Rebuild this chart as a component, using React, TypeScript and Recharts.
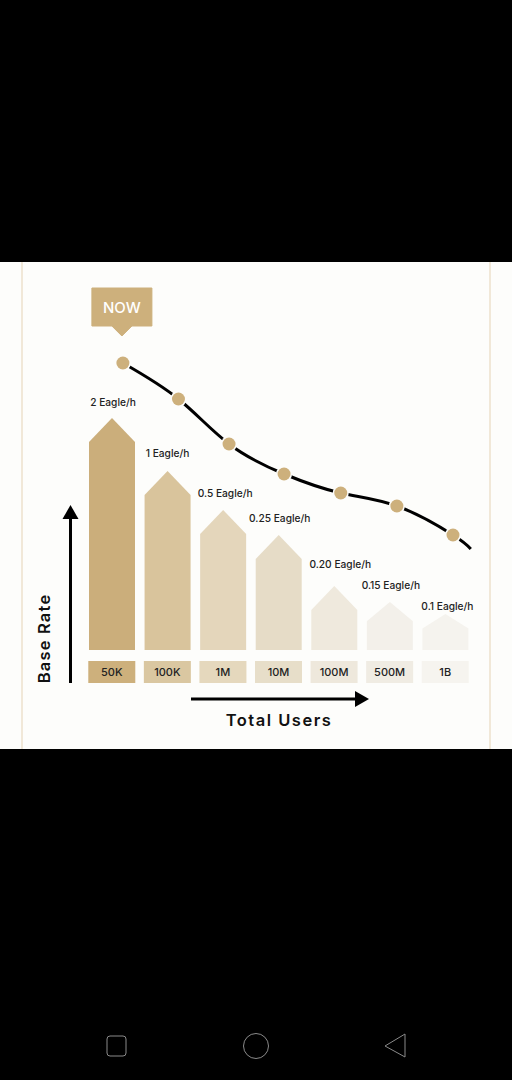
import React from 'react';
import { ComposedChart, Bar, Line, XAxis, YAxis, LabelList, Cell } from 'recharts';

const tiers = ['50K', '100K', '1M', '10M', '100M', '500M', '1B'];
const rateLabels = ['2 Eagle/h', '1 Eagle/h', '0.5 Eagle/h', '0.25 Eagle/h', '0.20 Eagle/h', '0.15 Eagle/h', '0.1 Eagle/h'];
const barLevels = [232, 179, 140, 115, 64, 48, 36];

// the curve sits slightly right of the bars, so it has its own position axis
const curvePositions = [0.7, 1.7, 2.61, 3.6, 4.62, 5.63, 6.64, 6.96];
const curveLevels = [287, 251, 206, 176, 157, 144, 115, 101];

const barData = tiers.map((tier, i) => ({ tier, level: barLevels[i], rate: rateLabels[i] }));
const curveData = curvePositions.map((pos, i) => ({ pos, level: curveLevels[i] }));

const BAR_COLORS = ['#cbae7b', '#d9c49c', '#e4d6bb', '#e6dcc7', '#efe9dd', '#f3f0ea', '#f5f3ee'];
const CHIP_COLORS = ['#cdb07c', '#dac7a1', '#e5d8bd', '#e7dec9', '#eee8dc', '#f0ece3', '#f6f4ef'];
const LABEL_NUDGE_X = [1, 0, 2, 1, 6, 1, 2];
const LABEL_NUDGE_Y = [0, -2, -1, -1, -6, -1, 8];

const GOLD = '#cdb07c';
const PANEL = '#fdfdfb';
const INK = '#222222';
const FONT = 'Inter, Roboto, sans-serif';

const House = ({ x, y, width, height, fill }: any) => {
  const roof = Math.min(24, height * 0.4);
  const d = `M${x},${y + height} L${x},${y + roof} L${x + width / 2},${y} L${x + width},${y + roof} L${x + width},${y + height} Z`;
  return <path d={d} fill={fill} />;
};

const TierTick = ({ x, y, index, payload }: any) => (
  <g>
    <rect x={x - 23.5} y={y + 5} width={47} height={22} fill={CHIP_COLORS[index]} />
    <text x={x} y={y + 20} textAnchor="middle" fontFamily={FONT} fontSize={11} fontWeight={500} fill={INK}>
      {payload.value}
    </text>
  </g>
);

const RateLabel = ({ x, y, width, value, index }: any) => (
  <text
    x={x + width / 2 + LABEL_NUDGE_X[index]}
    y={y - 12 + LABEL_NUDGE_Y[index]}
    textAnchor="middle"
    fontFamily={FONT}
    fontSize={10.2}
    fontWeight={500}
    fill={INK}
  >
    {value}
  </text>
);

const CurveDot = ({ cx, cy, index }: any) => {
  if (index === curveData.length - 1) return <g key={index} />;
  return (
    <g key={index}>
      <circle cx={cx} cy={cy} r={8} fill={PANEL} />
      <circle cx={cx} cy={cy} r={6.5} fill={GOLD} />
      {index === 0 && (
        <g>
          <path
            d={`M${cx - 31},${cy - 75} H${cx + 29} V${cy - 37} H${cx + 9} L${cx - 1},${cy - 27} L${cx - 11},${cy - 37} H${cx - 31} Z`}
            fill={GOLD}
            stroke={GOLD}
            strokeWidth={1}
            strokeLinejoin="round"
          />
          <text x={cx - 1} y={cy - 50} textAnchor="middle" fontFamily={FONT} fontSize={15} fontWeight={500} fill="#ffffff">
            NOW
          </text>
        </g>
      )}
    </g>
  );
};

export default function App() {
  return (
    <div style={{ position: 'absolute', left: 0, top: 0, width: 512, height: 1080, background: '#000', overflow: 'hidden' }}>
      <div style={{ position: 'absolute', left: 0, top: 262, width: 512, height: 487, background: PANEL }} />
      <div style={{ position: 'absolute', left: 21, top: 262, width: 2, height: 487, background: '#f1e8d8' }} />
      <div style={{ position: 'absolute', left: 489, top: 262, width: 2, height: 487, background: '#f1e8d8' }} />

      <div style={{ position: 'absolute', left: 0, top: 0 }}>
        <ComposedChart
          width={512}
          height={1080}
          data={barData}
          margin={{ top: 262, right: 39, bottom: 370, left: 84 }}
        >
          <XAxis dataKey="tier" height={60} axisLine={false} tickLine={false} tickMargin={0} interval={0} tick={<TierTick />} />
          <XAxis xAxisId="pos" type="number" dataKey="pos" domain={[0, 7]} hide allowDataOverflow />
          <YAxis hide domain={[0, 388]} />
          <Bar dataKey="level" barSize={46} shape={<House />} isAnimationActive={false}>
            {barData.map((entry, i) => (
              <Cell key={entry.tier} fill={BAR_COLORS[i]} />
            ))}
            <LabelList dataKey="rate" content={<RateLabel />} />
          </Bar>
          <Line
            xAxisId="pos"
            data={curveData}
            dataKey="level"
            type="natural"
            stroke="#000000"
            strokeWidth={3}
            dot={<CurveDot />}
            activeDot={false}
            isAnimationActive={false}
          />
        </ComposedChart>
      </div>

      {/* axis arrows and titles */}
      <svg width={512} height={1080} style={{ position: 'absolute', left: 0, top: 0 }}>
        <line x1={70.5} y1={683} x2={70.5} y2={515} stroke="#000" strokeWidth={3} />
        <path d="M62.5,519 L70.5,505 L78.5,519 Z" fill="#000" />
        <line x1={191} y1={699} x2={358} y2={699} stroke="#000" strokeWidth={3} />
        <path d="M355,691 L369,699 L355,707 Z" fill="#000" />
        <text
          transform="translate(49.5,638.5) rotate(-90)"
          textAnchor="middle"
          fontFamily={FONT}
          fontSize={16.5}
          fontWeight={600}
          letterSpacing={1.2}
          fill="#111"
        >
          Base Rate
        </text>
        <text x={279} y={726} textAnchor="middle" fontFamily={FONT} fontSize={16.5} fontWeight={600} letterSpacing={1.5} fill="#111">
          Total Users
        </text>

        {/* phone nav bar */}
        <rect x={107} y={1036} width={19} height={20} rx={3} fill="none" stroke="#8a8a8a" strokeWidth={1} />
        <circle cx={256} cy={1046} r={12.5} fill="none" stroke="#8a8a8a" strokeWidth={1} />
        <path d="M385,1046 L405,1034 L405,1057 Z" fill="none" stroke="#8a8a8a" strokeWidth={1} strokeLinejoin="round" />
      </svg>
    </div>
  );
}
